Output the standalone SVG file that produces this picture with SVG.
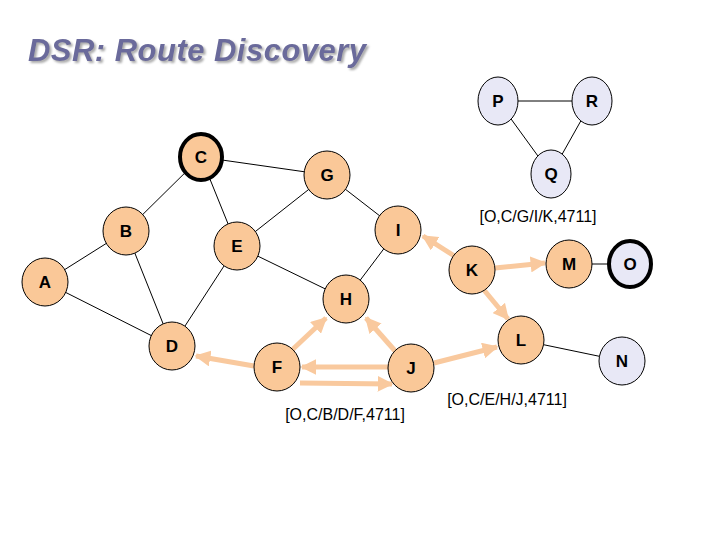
<svg xmlns="http://www.w3.org/2000/svg" width="720" height="540" viewBox="0 0 720 540">
<defs>
<marker id="ah" viewBox="0 0 10 10" refX="9" refY="5" markerWidth="3.2" markerHeight="3.2" orient="auto" markerUnits="strokeWidth"><path d="M0,0L10,5L0,10z" fill="#F9C99E"/></marker>
<filter id="sh"><feDropShadow dx="2" dy="2" stdDeviation="0.8" flood-color="#aaaaaa"/></filter>
</defs>
<style>
.n{fill:#FAC898;stroke:#000;stroke-width:1}
.l{fill:#E8E8F6;stroke:#000;stroke-width:1}
.t{stroke-width:4}
.e{stroke:#000;stroke-width:1;fill:none}
.a{stroke:#F9C99E;stroke-width:5;fill:none;marker-end:url(#ah)}
text{font-family:"Liberation Sans",Arial,sans-serif}
.nt{font-size:17px;font-weight:bold;text-anchor:middle}
.lb{font-size:16px;text-anchor:middle}
</style>
<rect width="720" height="540" fill="#fff"/>
<text x="28" y="61" font-size="31" font-style="italic" font-weight="bold" fill="#6B6B9B" filter="url(#sh)" textLength="338">DSR: Route Discovery</text>
<g id="connectors">
<path class="e" d="M498,101H592M498,101L551,174M592,101L551,174M201,157L327,175M201,157L126,231M201,157L237,246M327,175L237,246M327,175L398,230M126,231L45,282M126,231L172,346M45,282L172,346M237,246L172,346M237,246L346,299M398,230L346,299M569,264H630M521,340L622,361"/>
<path class="a" d="M456,257L423,236"/>
<path class="a" d="M495,268L545,263"/>
<path class="a" d="M484,290L508,319"/>
<path class="a" d="M396,352L366,318"/>
<path class="a" d="M434,363L497,347"/>
<path class="a" d="M292,350L326,318"/>
<path class="a" d="M254,366L196,356"/>
<path class="a" d="M388,367L302,367"/>
<path class="a" d="M300,383L392,384"/>
</g>
<g id="P"><ellipse class="l" cx="498" cy="101" rx="20" ry="24"/><text class="nt" x="498" y="107">P</text></g>
<g id="R"><ellipse class="l" cx="592" cy="101" rx="20" ry="24"/><text class="nt" x="592" y="107">R</text></g>
<g id="Q"><ellipse class="l" cx="551" cy="174" rx="20" ry="24"/><text class="nt" x="551" y="180">Q</text></g>
<g id="C"><ellipse class="n t" cx="201" cy="157" rx="21" ry="23"/><text class="nt" x="201" y="163">C</text></g>
<g id="G"><ellipse class="n" cx="327" cy="175" rx="23" ry="24"/><text class="nt" x="327" y="181">G</text></g>
<g id="B"><ellipse class="n" cx="126" cy="231" rx="23" ry="24"/><text class="nt" x="126" y="237">B</text></g>
<g id="E"><ellipse class="n" cx="237" cy="246" rx="23" ry="24"/><text class="nt" x="237" y="252">E</text></g>
<g id="I"><ellipse class="n" cx="398" cy="230" rx="23" ry="24"/><text class="nt" x="398" y="236">I</text></g>
<g id="A"><ellipse class="n" cx="45" cy="282" rx="23" ry="24"/><text class="nt" x="45" y="288">A</text></g>
<g id="K"><ellipse class="n" cx="472" cy="270" rx="23" ry="24"/><text class="nt" x="472" y="276">K</text></g>
<g id="M"><ellipse class="n" cx="569" cy="264" rx="23" ry="24"/><text class="nt" x="569" y="270">M</text></g>
<g id="O"><ellipse class="l t" cx="630" cy="264" rx="21" ry="23"/><text class="nt" x="630" y="270">O</text></g>
<g id="H"><ellipse class="n" cx="346" cy="299" rx="23" ry="24"/><text class="nt" x="346" y="305">H</text></g>
<g id="L"><ellipse class="n" cx="521" cy="340" rx="23" ry="24"/><text class="nt" x="521" y="346">L</text></g>
<g id="D"><ellipse class="n" cx="172" cy="346" rx="23" ry="24"/><text class="nt" x="172" y="352">D</text></g>
<g id="F"><ellipse class="n" cx="277" cy="367" rx="23" ry="24"/><text class="nt" x="277" y="373">F</text></g>
<g id="J"><ellipse class="n" cx="411" cy="368" rx="23" ry="24"/><text class="nt" x="411" y="374">J</text></g>
<g id="N"><ellipse class="l" cx="622" cy="361" rx="23" ry="24"/><text class="nt" x="622" y="367">N</text></g>
<text class="lb" x="538" y="222">[O,C/G/I/K,4711]</text>
<text class="lb" x="507" y="405">[O,C/E/H/J,4711]</text>
<text class="lb" x="345" y="420">[O,C/B/D/F,4711]</text>
</svg>
